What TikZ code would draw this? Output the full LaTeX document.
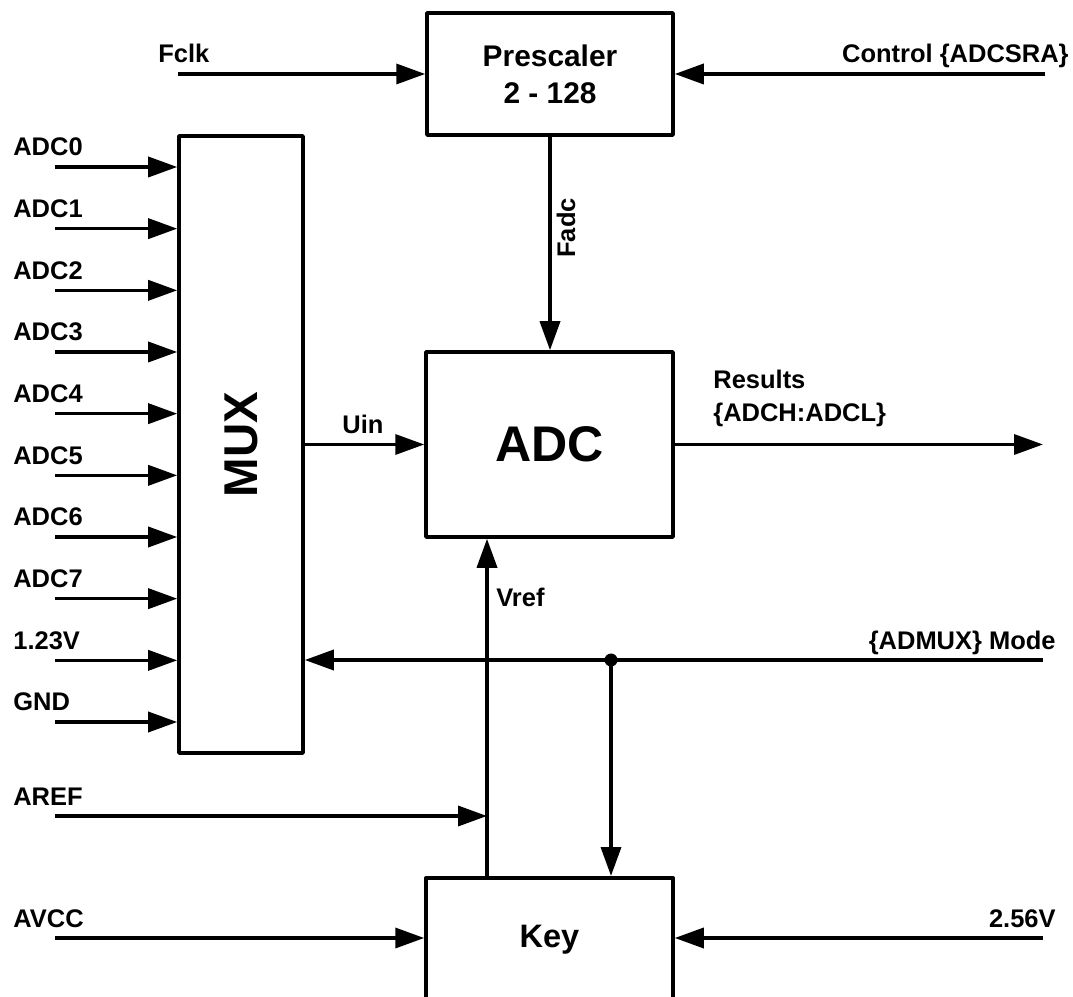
\documentclass[tikz,border=0pt]{standalone}
\usepackage{fontspec}
\setmainfont{Liberation Sans}
\usetikzlibrary{arrows.meta,calc}

\begin{document}
\begin{tikzpicture}[>={Triangle[length=0.58cm,width=0.40cm]},line join=round,
  blk/.style={draw,line width=2pt,inner sep=0pt},
  sig/.style={line width=2pt,->},
  lbl/.style={font=\fontsize{14.5}{17}\selectfont\bfseries,inner sep=0pt}]
  \useasboundingbox (0,0) rectangle (21.46,19.92);
  \clip (0,0) rectangle (21.46,19.92);
  % blocks
  \node[blk,minimum width=4.92cm,minimum height=2.44cm,align=center,font=\fontsize{17}{21}\selectfont\bfseries] (pre) at (11.00,18.44) {Prescaler\\2 - 128};
  \node[blk,minimum width=2.48cm,minimum height=12.34cm] (mux) at (4.82,11.03) {};
  \node[rotate=90,font=\fontsize{27}{30}\selectfont\bfseries] (muxtxt) at (mux.center) {MUX};
  \node[blk,minimum width=4.94cm,minimum height=3.70cm,font=\fontsize{28.5}{32}\selectfont\bfseries] (adc) at (10.99,11.03) {ADC};
  \node[blk,minimum width=4.94cm,minimum height=3.60cm,anchor=north] (key) at (10.99,2.40) {};
  \node[lbl,font=\fontsize{18.5}{21}\selectfont\bfseries,anchor=base] (keytxt) at (10.99,0.98) {Key};
  % free ends
  \coordinate (FCLK) at (3.56,18.44);
  \coordinate (CTRL) at (20.90,18.44);
  \coordinate (IN0) at (1.10,16.580);
  \coordinate (IN1) at (1.10,15.347);
  \coordinate (IN2) at (1.10,14.113);
  \coordinate (IN3) at (1.10,12.880);
  \coordinate (IN4) at (1.10,11.647);
  \coordinate (IN5) at (1.10,10.413);
  \coordinate (IN6) at (1.10,9.180);
  \coordinate (IN7) at (1.10,7.947);
  \coordinate (IN8) at (1.10,6.713);
  \coordinate (IN9) at (1.10,5.480);
  \coordinate (RES) at (20.86,11.03);
  \coordinate (MODE) at (20.86,6.72);
  \coordinate (JN) at (12.22,6.72);
  \coordinate (AREF) at (1.10,3.60);
  \coordinate (VR) at (9.74,3.60);
  \coordinate (AVCC) at (1.10,1.16);
  \coordinate (V256) at (20.86,1.16);
  % prescaler
  \draw[sig] (FCLK) -- (pre.west);
  \draw[sig] (CTRL) -- (pre.east);
  \draw[sig] (pre.south) -- (pre.south |- adc.north);
  % mux inputs
  \draw[sig] (IN0) -- (IN0 -| mux.west);
  \draw[sig] (IN1) -- (IN1 -| mux.west);
  \draw[sig] (IN2) -- (IN2 -| mux.west);
  \draw[sig] (IN3) -- (IN3 -| mux.west);
  \draw[sig] (IN4) -- (IN4 -| mux.west);
  \draw[sig] (IN5) -- (IN5 -| mux.west);
  \draw[sig] (IN6) -- (IN6 -| mux.west);
  \draw[sig] (IN7) -- (IN7 -| mux.west);
  \draw[sig] (IN8) -- (IN8 -| mux.west);
  \draw[sig] (IN9) -- (IN9 -| mux.west);
  % adc
  \draw[sig] (mux.east |- adc.west) -- (adc.west);
  \draw[sig] (adc.east) -- (RES);
  \draw[sig] (key.north -| VR) -- (adc.south -| VR);
  \draw[sig] (AREF) -- (VR);
  % mode and key
  \draw[sig] (MODE) -- (MODE -| mux.east);
  \draw[sig] (JN) -- (JN |- key.north);
  \fill (JN) circle (0.13);
  \draw[sig] (AVCC) -- (AVCC -| key.west);
  \draw[sig] (V256) -- (V256 -| key.east);
  % labels
  \node[lbl,anchor=base west] (lfclk) at (3.16,18.66) {Fclk};
  \node[lbl,anchor=base east] (lctrl) at (21.38,18.66) {Control \{ADCSRA\}};
  \node[lbl,rotate=90] (lfadc) at (11.32,15.36) {Fadc};
  \node[lbl,anchor=base west] (ladc0) at (0.26,16.80) {ADC0};
  \node[lbl,anchor=base west] (ladc1) at (0.26,15.567) {ADC1};
  \node[lbl,anchor=base west] (ladc2) at (0.26,14.333) {ADC2};
  \node[lbl,anchor=base west] (ladc3) at (0.26,13.100) {ADC3};
  \node[lbl,anchor=base west] (ladc4) at (0.26,11.867) {ADC4};
  \node[lbl,anchor=base west] (ladc5) at (0.26,10.633) {ADC5};
  \node[lbl,anchor=base west] (ladc6) at (0.26,9.400) {ADC6};
  \node[lbl,anchor=base west] (ladc7) at (0.26,8.167) {ADC7};
  \node[lbl,anchor=base west] (l123) at (0.26,6.933) {1.23V};
  \node[lbl,anchor=base west] (lgnd) at (0.26,5.700) {GND};
  \node[lbl,anchor=base west] (luin) at (6.84,11.24) {Uin};
  \node[lbl,anchor=base west,align=left,font=\fontsize{14.5}{18.8}\selectfont\bfseries] (lres) at (14.26,11.48) {Results\\\{ADCH:ADCL\}};
  \node[lbl,anchor=base west] (lvref) at (9.92,7.78) {Vref};
  \node[lbl,anchor=base east] (lmode) at (21.12,6.92) {\{ADMUX\} Mode};
  \node[lbl,anchor=base west] (laref) at (0.26,3.82) {AREF};
  \node[lbl,anchor=base west] (lavcc) at (0.26,1.38) {AVCC};
  \node[lbl,anchor=base east] (l256) at (21.12,1.38) {2.56V};
\end{tikzpicture}
\end{document}
